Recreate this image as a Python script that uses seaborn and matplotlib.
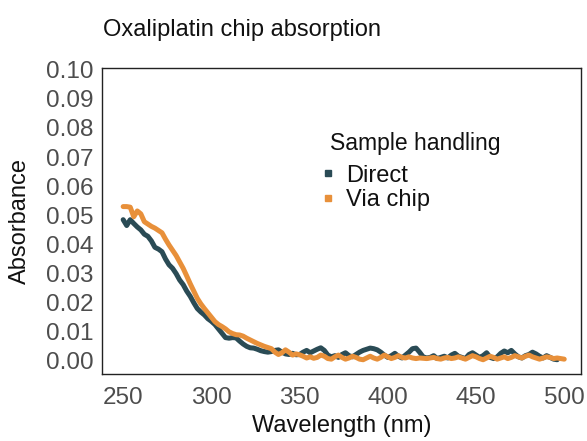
import numpy as np
import pandas as pd
import matplotlib
matplotlib.use("Agg")
import matplotlib.pyplot as plt
from matplotlib.lines import Line2D
import seaborn as sns

# ---- data ----
direct_wl = np.arange(250, 497, 2)
direct_abs = [
    0.0485, 0.0465, 0.0485, 0.0472, 0.0460, 0.0450, 0.0435, 0.0428, 0.0412, 0.0390,   # 250-268
    0.0384, 0.0375, 0.0350, 0.0330, 0.0318, 0.0300, 0.0278, 0.0262, 0.0240, 0.0222,   # 270-288
    0.0200, 0.0180, 0.0168, 0.0158, 0.0145, 0.0136, 0.0125, 0.0110, 0.0095, 0.0080,   # 290-308
    0.0078, 0.0080, 0.0079, 0.0068, 0.0058, 0.0050, 0.0045, 0.0044, 0.0040, 0.0035,   # 310-328
    0.0032, 0.0030, 0.0032, 0.0036, 0.0038, 0.0030, 0.0024, 0.0022, 0.0026, 0.0021,   # 330-348
    0.0022, 0.0030, 0.0036, 0.0028, 0.0034, 0.0040, 0.0045, 0.0036, 0.0020, 0.0014,   # 350-368
    0.0018, 0.0012, 0.0022, 0.0028, 0.0018, 0.0014, 0.0022, 0.0030, 0.0036, 0.0040,   # 370-388
    0.0044, 0.0042, 0.0038, 0.0030, 0.0020, 0.0012, 0.0018, 0.0026, 0.0016, 0.0010,   # 390-408
    0.0020, 0.0030, 0.0042, 0.0044, 0.0030, 0.0014, 0.0010, 0.0012, 0.0018, 0.0008,   # 410-428
    0.0012, 0.0016, 0.0010, 0.0020, 0.0026, 0.0016, 0.0012, 0.0008, 0.0022, 0.0028,   # 430-448
    0.0020, 0.0012, 0.0018, 0.0028, 0.0012, 0.0008, 0.0014, 0.0026, 0.0034, 0.0028,   # 450-468
    0.0036, 0.0024, 0.0014, 0.0010, 0.0018, 0.0022, 0.0030, 0.0024, 0.0016, 0.0010,   # 470-488
    0.0018, 0.0012, 0.0006, 0.0004,                                                   # 490-496
]

chip_wl = np.arange(250, 501, 2)
chip_abs = [
    0.0530, 0.0530, 0.0528, 0.0495, 0.0515, 0.0505, 0.0478, 0.0470, 0.0462, 0.0456,   # 250-268
    0.0448, 0.0440, 0.0418, 0.0398, 0.0380, 0.0362, 0.0340, 0.0318, 0.0292, 0.0265,   # 270-288
    0.0240, 0.0215, 0.0196, 0.0180, 0.0165, 0.0150, 0.0135, 0.0125, 0.0118, 0.0110,   # 290-308
    0.0100, 0.0094, 0.0090, 0.0089, 0.0085, 0.0078, 0.0072, 0.0066, 0.0060, 0.0055,   # 310-328
    0.0050, 0.0046, 0.0042, 0.0030, 0.0022, 0.0028, 0.0038, 0.0030, 0.0020, 0.0024,   # 330-348
    0.0021, 0.0016, 0.0010, 0.0014, 0.0009, 0.0012, 0.0020, 0.0016, 0.0008, 0.0006,   # 350-368
    0.0014, 0.0020, 0.0012, 0.0006, 0.0010, 0.0016, 0.0012, 0.0006, 0.0004, 0.0010,   # 370-388
    0.0016, 0.0010, 0.0006, 0.0012, 0.0020, 0.0014, 0.0008, 0.0012, 0.0018, 0.0012,   # 390-408
    0.0010, 0.0014, 0.0010, 0.0008, 0.0010, 0.0009, 0.0008, 0.0010, 0.0012, 0.0008,   # 410-428
    0.0006, 0.0010, 0.0012, 0.0008, 0.0010, 0.0014, 0.0010, 0.0006, 0.0012, 0.0018,   # 430-448
    0.0014, 0.0008, 0.0004, 0.0010, 0.0016, 0.0012, 0.0006, 0.0010, 0.0014, 0.0008,   # 450-468
    0.0012, 0.0018, 0.0014, 0.0010, 0.0016, 0.0020, 0.0014, 0.0010, 0.0006, 0.0010,   # 470-488
    0.0014, 0.0012, 0.0008, 0.0010, 0.0008, 0.0006,                                   # 490-500
]

groups = ["Direct", "Via chip"]
colors = ["#2a4b55", "#e8903a"]
x_ticks = [250, 300, 350, 400, 450, 500]
y_ticks = [0.00, 0.01, 0.02, 0.03, 0.04, 0.05, 0.06, 0.07, 0.08, 0.09, 0.10]

df = pd.concat([
    pd.DataFrame({"wl": direct_wl, "abs": direct_abs, "group": groups[0]}),
    pd.DataFrame({"wl": chip_wl, "abs": chip_abs, "group": groups[1]}),
], ignore_index=True)

# ---- plot ----
sns.set_style("white")
plt.rcParams["font.family"] = ["Liberation Sans", "DejaVu Sans"]

fig = plt.figure(figsize=(5.87, 4.41), dpi=100)
ax = fig.add_axes([102 / 587, 1 - 374 / 441, 479 / 587, 306 / 441])

sns.lineplot(data=df, x="wl", y="abs", hue="group", hue_order=groups,
             palette=colors, linewidth=3.6, ax=ax, legend=False,
             estimator=None, sort=True)

ax.set_xlim(238, 509.5)
ax.set_ylim(-0.0045, 0.1006)
ax.set_xticks(x_ticks)
ax.set_xticklabels([str(t) for t in x_ticks])
ax.set_yticks(y_ticks)
ax.set_yticklabels([f"{t:.2f}" for t in y_ticks])

for s in ax.spines.values():
    s.set_color("#222222")
    s.set_linewidth(1.0)
ax.tick_params(axis="both", direction="out", length=4, width=1,
               color="#222222", labelsize=17.5, labelcolor="#4d4d4d", pad=2)
ax.tick_params(axis="x", pad=5)

ax.set_xlabel("")
ax.set_ylabel("")
fig.text((102 + 581) / 2 / 587, 1 - 426 / 441, "Wavelength (nm)",
         fontsize=17, color="#111111", ha="center", va="center")
fig.text(20 / 587, 1 - 221 / 441, "Absorbance", rotation=90,
         fontsize=17, color="#111111", ha="center", va="center")
fig.text(103 / 587, 1 - 30 / 441, "Oxaliplatin chip absorption",
         fontsize=17, color="#111111", ha="left", va="center")

# legend
fig.text(330 / 587, 1 - 144 / 441, "Sample handling",
         fontsize=16.5, color="#111111", ha="left", va="center")
handles = [Line2D([0], [0], marker="s", linestyle="none", markersize=4.5,
                  markerfacecolor=c, markeredgecolor=c) for c in colors]
leg = ax.legend(handles, groups, loc="upper left",
                bbox_to_anchor=(306 / 587, 1 - 148 / 441),
                bbox_transform=fig.transFigure, frameon=False, fontsize=17,
                handlelength=0.5, handletextpad=0.5,
                labelspacing=0.1, borderpad=0.2, alignment="left")
for t in leg.get_texts():
    t.set_color("#111111")

fig.savefig("out.png", dpi=100)
